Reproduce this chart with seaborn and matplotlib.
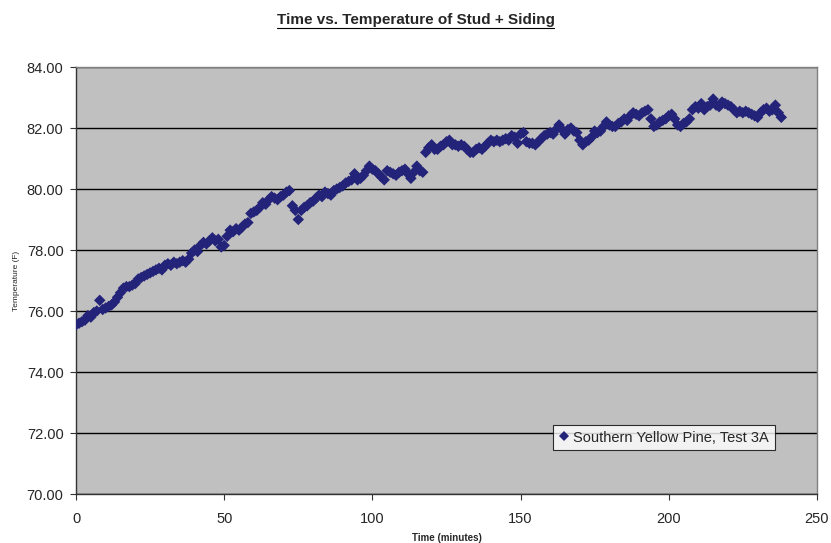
import numpy as np
import pandas as pd
import matplotlib
matplotlib.use("Agg")
import matplotlib.pyplot as plt
from matplotlib.lines import Line2D
import seaborn as sns

# temperature (F), one reading per minute
temps = [
    75.55, 75.60, 75.65, 75.70, 75.85, 75.80, 75.95, 76.00, 76.35, 76.05,
    76.10, 76.15, 76.20, 76.30, 76.45, 76.60, 76.75, 76.80, 76.80, 76.85,
    76.90, 77.05, 77.10, 77.15, 77.20, 77.25, 77.30, 77.35, 77.40, 77.35,
    77.50, 77.55, 77.50, 77.60, 77.55, 77.60, 77.65, 77.60, 77.70, 77.90,
    78.00, 77.95, 78.15, 78.25, 78.20, 78.30, 78.40, 78.30, 78.35, 78.10,
    78.15, 78.45, 78.65, 78.60, 78.70, 78.65, 78.75, 78.85, 78.90, 79.20,
    79.25, 79.30, 79.40, 79.55, 79.50, 79.65, 79.75, 79.70, 79.65, 79.75,
    79.80, 79.90, 79.95, 79.45, 79.30, 79.00, 79.30, 79.40, 79.45, 79.55,
    79.60, 79.70, 79.80, 79.75, 79.90, 79.85, 79.80, 79.95, 80.00, 80.05,
    80.10, 80.20, 80.25, 80.30, 80.50, 80.30, 80.35, 80.45, 80.60, 80.75,
    80.65, 80.60, 80.50, 80.40, 80.30, 80.60, 80.55, 80.50, 80.45, 80.55,
    80.60, 80.65, 80.50, 80.35, 80.55, 80.75, 80.60, 80.55, 81.20, 81.35,
    81.45, 81.30, 81.30, 81.40, 81.45, 81.55, 81.60, 81.45, 81.45, 81.40,
    81.45, 81.40, 81.30, 81.20, 81.20, 81.30, 81.35, 81.30, 81.40, 81.50,
    81.60, 81.55, 81.60, 81.55, 81.60, 81.65, 81.60, 81.75, 81.70, 81.50,
    81.80, 81.85, 81.55, 81.50, 81.50, 81.45, 81.55, 81.65, 81.75, 81.80,
    81.85, 81.80, 81.95, 82.10, 81.95, 81.80, 81.95, 82.00, 81.90, 81.85,
    81.60, 81.45, 81.55, 81.60, 81.70, 81.90, 81.85, 81.90, 82.05, 82.20,
    82.10, 82.05, 82.05, 82.15, 82.20, 82.30, 82.25, 82.40, 82.50, 82.45,
    82.40, 82.50, 82.55, 82.60, 82.30, 82.05, 82.10, 82.20, 82.25, 82.30,
    82.40, 82.45, 82.30, 82.10, 82.05, 82.15, 82.20, 82.30, 82.60, 82.70,
    82.65, 82.80, 82.60, 82.70, 82.75, 82.95, 82.75, 82.70, 82.85, 82.80,
    82.75, 82.70, 82.60, 82.50, 82.55, 82.50, 82.55, 82.50, 82.45, 82.40,
    82.35, 82.50, 82.60, 82.65, 82.55, 82.60, 82.75, 82.50, 82.35,
]
minutes = np.arange(len(temps))

series_label = "Southern Yellow Pine, Test 3A"
title = "Time vs. Temperature of Stud + Siding"
x_ticks = [0, 50, 100, 150, 200, 250]
y_ticks = [70, 72, 74, 76, 78, 80, 82, 84]

df = pd.DataFrame({"Time (minutes)": minutes, "Temperature (F)": temps,
                   "series": series_label})

sns.set_style("ticks")
plt.rcParams["font.family"] = ["Liberation Sans", "DejaVu Sans"]

fig = plt.figure(figsize=(8.31, 5.43), dpi=100)
ax = fig.add_axes([0.0915, 0.0902, 0.8915, 0.7864])
ax.set_facecolor("#c0c0c0")

sns.scatterplot(data=df, x="Time (minutes)", y="Temperature (F)", hue="series",
                palette=["#23237a"], marker="D", s=34, linewidth=0, ax=ax,
                zorder=3)

ax.set_xlim(0, 250)
ax.set_ylim(70, 84)
ax.set_xticks(x_ticks)
ax.set_yticks(y_ticks)
ax.set_xticklabels([str(t) for t in x_ticks], fontsize=10.5)
ax.set_yticklabels([f"{t:.2f}" for t in y_ticks], fontsize=10.5)
ax.yaxis.grid(True, color="black", linewidth=1.0, zorder=1)
ax.set_axisbelow(True)
ax.tick_params(axis="both", direction="out", length=4, width=0.8, color="#333333")
ax.tick_params(axis="x", pad=9)
ax.tick_params(axis="y", pad=5)

for side in ["top", "right"]:
    ax.spines[side].set_color("#808080")
    ax.spines[side].set_linewidth(1.0)
for side in ["left", "bottom"]:
    ax.spines[side].set_color("#333333")
    ax.spines[side].set_linewidth(1.0)

ax.set_xlabel("Time (minutes)", fontsize=7, fontweight="bold", labelpad=5)
ax.set_ylabel("Temperature (F)", fontsize=6, labelpad=5)

leg = ax.legend(loc="lower right", bbox_to_anchor=(0.953, 0.085), fontsize=10.5,
                frameon=True, fancybox=False, handletextpad=0.2,
                handlelength=0.8, borderpad=0.4, markerscale=0.85)
leg.get_frame().set_facecolor("white")
leg.get_frame().set_edgecolor("black")
leg.get_frame().set_linewidth(0.8)

ttl = fig.text(0.5, 0.964, title, ha="center", va="center", fontsize=11,
               fontweight="bold")

# underline the title like the original spreadsheet chart
fig.canvas.draw()
bb = ttl.get_window_extent().transformed(fig.transFigure.inverted())
fig.add_artist(Line2D([bb.x0, bb.x1], [bb.y0 - 0.003, bb.y0 - 0.003],
                      transform=fig.transFigure, color="black", linewidth=0.8))

fig.savefig("out.png", dpi=100, facecolor="white")
